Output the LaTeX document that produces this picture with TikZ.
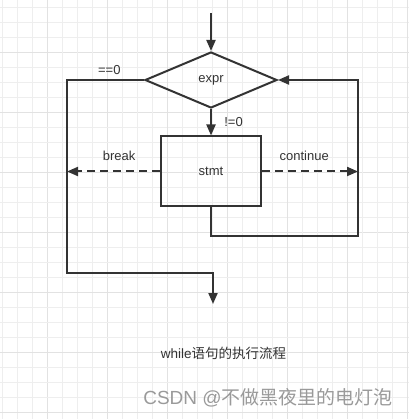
\documentclass[tikz,border=0pt]{standalone}
\usepackage{fontspec}
\setmainfont{Liberation Sans}
\newfontfamily\cjk{Noto Sans CJK SC}
\usetikzlibrary{arrows.meta,shapes.geometric,positioning}

\definecolor{linegray}{HTML}{333333}
\definecolor{gridminor}{HTML}{EEEEEE}
\definecolor{gridmajor}{HTML}{E2E2E2}
\definecolor{markgray}{HTML}{9A9A9A}

\begin{document}
\begin{tikzpicture}[
    x=1pt, y=-1pt,
    line/.style={draw=linegray, line width=2pt},
    test/.style={
        diamond,
        draw=linegray,
        line width=2pt,
        minimum width=132pt,
        minimum height=56pt,
        inner sep=0pt
    },
    stepbox/.style={
        rectangle,
        draw=linegray,
        line width=2pt,
        minimum width=100pt,
        minimum height=70pt
    },
    flow/.style={line, -{Triangle[length=11pt,width=9pt]}},
    jump/.style={flow, dash pattern=on 8pt off 5pt},
    lbl/.style={font=\fontsize{13}{15}\selectfont, text=linegray},
    every node/.style={font=\fontsize{13}{15}\selectfont, text=linegray}
]
    \useasboundingbox (0,0) rectangle (409,419);
    \fill[white] (0,0) rectangle (409,419);

    % grid
    \foreach \k in {0,...,27}{
        \pgfmathtruncatemacro\major{mod(\k,4)==3 ? 1 : 0}
        \ifnum\major=1 \def\gc{gridmajor}\else\def\gc{gridminor}\fi
        \draw[\gc, line width=1pt] (2.5+15*\k,0) -- (2.5+15*\k,419);
        \draw[\gc, line width=1pt] (0,7.3+15*\k) -- (409,7.3+15*\k);
    }

    \node[test] (expr) at (211,80) {expr};
    \node[stepbox, below=26.5pt of expr] (stmt) {stmt};

    \coordinate (entry) at (211,13);
    \coordinate (out-left) at (67,80);
    \coordinate (exit-corner) at (67,273);
    \coordinate (exit) at (213,304);
    \coordinate (back-right) at (358,80);
    \coordinate (loop-bottom) at (358,236);

    \draw[flow] (entry) -- (expr.north);
    \draw[flow] (expr.south) -- node[lbl, right=9pt] {!=0} (stmt.north);
    \draw[flow] (expr.west) -- node[lbl, above=1pt, pos=0.45] {==0} (out-left)
        -- (exit-corner) -| (exit);
    \draw[flow] (stmt.south) |- (loop-bottom) -- (back-right) -- (expr.east);

    \draw[jump] (stmt.west) -- node[lbl, above=7pt, pos=0.44] {break} (stmt.west -| out-left);
    \draw[jump] (stmt.east) -- node[lbl, above=7pt, pos=0.44] {continue} (stmt.east -| back-right);

    \node[font=\fontsize{13.5}{16}\selectfont] (caption) at (223.5,353) {while\cjk 语句的执行流程};
    \node[font=\fontsize{19}{21}\selectfont, text=markgray] (mark) at (268,398) {CSDN @\cjk 不做黑夜里的电灯泡};
\end{tikzpicture}
\end{document}
